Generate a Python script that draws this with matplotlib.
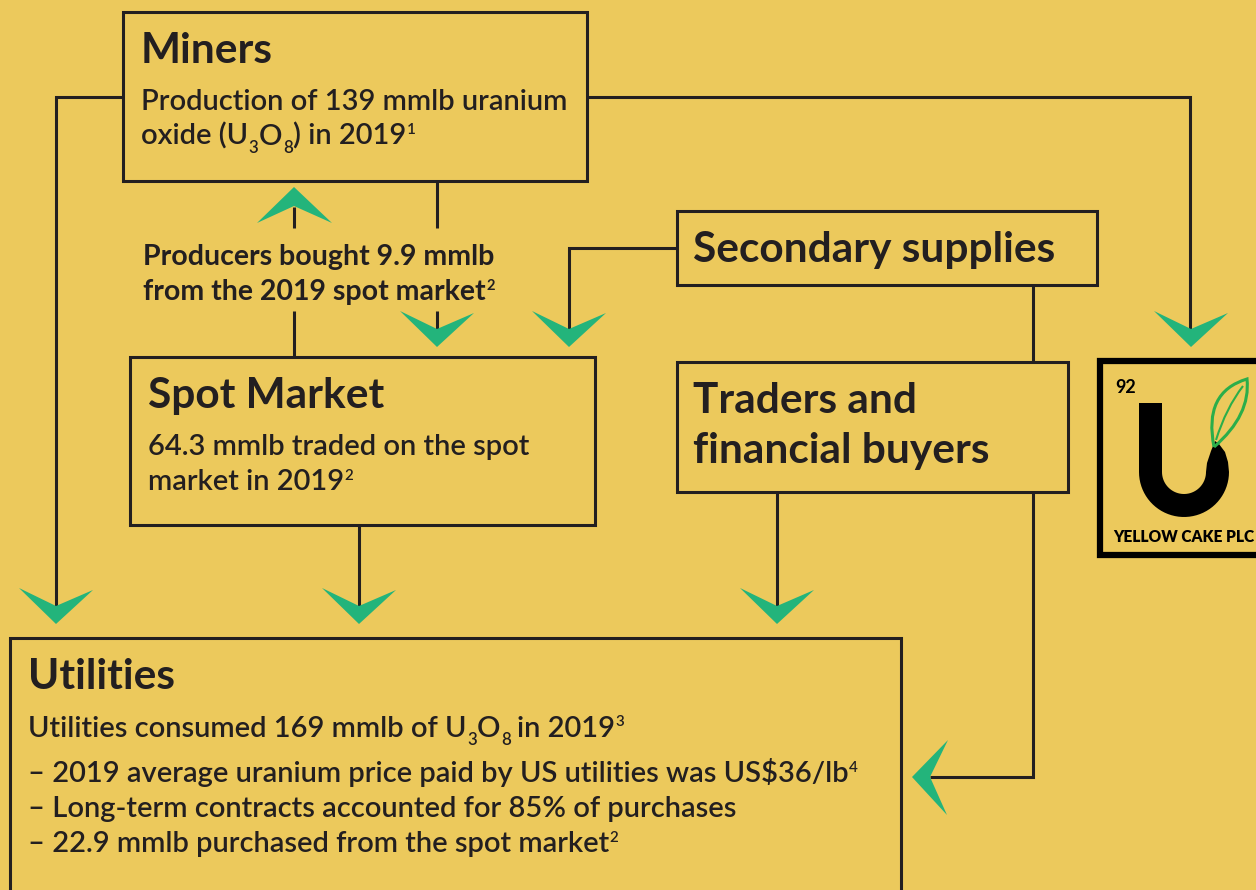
import numpy as np
import matplotlib.pyplot as plt
from matplotlib.patches import Rectangle, Polygon, PathPatch
from matplotlib.path import Path

BG = '#ECC95C'
DARK = '#231F20'
GREEN = '#23B47B'
LEAF = '#2BAE4A'

plt.rcParams['font.family'] = ['Lato', 'DejaVu Sans']

# box titles
titles = ['Miners', 'Secondary supplies', 'Spot Market', 'Traders and', 'financial buyers', 'Utilities']
# body lines, split into (text, kind) runs: kind '' normal, 'sup', 'sub'
miners_lines = [[('Production of 139 mmlb uranium', '')],
                [('oxide (U', ''), ('3', 'sub'), ('O', ''), ('8', 'sub'), (') in 2019', ''), ('1', 'sup')]]
producers_lines = [[('Producers bought 9.9 mmlb', '')],
                   [('from the 2019 spot market', ''), ('2', 'sup')]]
spot_lines = [[('64.3 mmlb traded on the spot', '')],
              [('market in 2019', ''), ('2', 'sup')]]
utilities_lines = [[('Utilities consumed 169 mmlb of U', ''), ('3', 'sub'), ('O', ''), ('8', 'sub'),
                    (' in 2019', ''), ('3', 'sup')],
                   [('– 2019 average uranium price paid by US utilities was US$36/lb', ''), ('4', 'sup')],
                   [('– Long-term contracts accounted for 85% of purchases', '')],
                   [('– 22.9 mmlb purchased from the spot market', ''), ('2', 'sup')]]
logo_number = '92'
logo_name = 'YELLOW CAKE PLC'

fig = plt.figure(figsize=(12.56, 8.90), dpi=100)
fig.patch.set_facecolor(BG)
ax = fig.add_axes([0, 0, 1, 1])
ax.set_xlim(0, 1256)
ax.set_ylim(890, 0)
ax.axis('off')
renderer = fig.canvas.get_renderer()

LW = 2.2


def box(x0, y0, x1, y1):
    ax.add_patch(Rectangle((x0, y0), x1 - x0, y1 - y0, fc=BG, ec=DARK, lw=LW, zorder=2))


def line(xs, ys):
    ax.plot(xs, ys, color=DARK, lw=LW, zorder=1, solid_capstyle='butt', solid_joinstyle='miter')


def chevron(x, y, d):
    # tip at (x, y)
    if d == 'down':
        pts = [(x - 37, y - 36), (x, y - 18), (x + 37, y - 34), (x, y)]
    elif d == 'up':
        pts = [(x - 37, y + 36), (x, y + 19), (x + 38, y + 36), (x, y)]
    else:
        pts = [(x + 36, y - 37), (x + 18, y), (x + 35, y + 38), (x, y)]
    ax.add_patch(Polygon(pts, closed=True, fc=GREEN, ec='none', zorder=3))


def rich(x, y, runs, size, weight):
    em = size * 100 / 72
    for s, kind in runs:
        fs, dy = size, 0
        if kind == 'sup':
            fs, dy = size * 0.52, -0.36 * em
        elif kind == 'sub':
            fs, dy = size * 0.58, 0.28 * em
        if s.startswith(' '):
            x += 0.2 * em
            s = s.lstrip()
        t = ax.text(x, y + dy, s, fontsize=fs, fontweight=weight, color=DARK,
                    va='baseline', ha='left', zorder=4, parse_math=False)
        bb = t.get_window_extent(renderer).transformed(ax.transData.inverted())
        x = bb.x1 + 0.5


# connectors
line([123, 56, 56], [97, 97, 606])
line([587, 1190, 1190], [97, 97, 330])
line([437, 437], [181, 228])
line([437, 437], [311, 330])
line([294, 294], [207, 228])
line([294, 294], [311, 357])
line([677, 569, 569], [248, 248, 330])
line([1033, 1033, 930], [285, 777, 777])
line([359, 359], [525, 606])
line([777, 777], [492, 606])

chevron(56, 624, 'down')
chevron(359, 624, 'down')
chevron(777, 624, 'down')
chevron(437, 347, 'down')
chevron(569, 347, 'down')
chevron(1191, 347, 'down')
chevron(294, 187, 'up')
chevron(912, 777, 'left')

# boxes
box(123, 12, 587, 181)
box(677, 211, 1097, 285)
box(130, 357, 595, 525)
box(677, 362, 1068, 492)
box(10, 638, 901, 900)

TS = 30.5
BS = 21
BW = 'semibold'
kw = dict(color=DARK, va='baseline', ha='left', zorder=4, fontsize=TS, fontweight='bold')
ax.text(141, 63, titles[0], **kw)
for i, r in enumerate(miners_lines):
    rich(141, 110 + 35 * i, r, BS, BW)
for i, r in enumerate(producers_lines):
    rich(143, 265 + 35 * i, r, 20.5, 'bold')
ax.text(693, 262, titles[1], **kw)
ax.text(148, 408, titles[2], **kw)
for i, r in enumerate(spot_lines):
    rich(148, 455 + 35 * i, r, BS, BW)
ax.text(693, 413, titles[3], **kw)
ax.text(693, 463, titles[4], **kw)
ax.text(28, 689, titles[5], **kw)
for r, y in zip(utilities_lines, [737, 782, 817, 852]):
    rich(28, y, r, BS, BW)

# logo
ax.add_patch(Rectangle((1100, 361), 170, 194, fc=BG, ec='black', lw=4.5, zorder=2))
ax.text(1115, 393, logo_number, fontsize=13, fontweight='bold', color='black', va='baseline', zorder=4)
ax.text(1113, 542, logo_name, fontsize=11.2, fontweight='heavy', color='black', va='baseline', zorder=4)

cx, cy, ro, ri = 1184, 472, 45, 22
outer = [(cx + ro * np.cos(t), cy + ro * np.sin(t)) for t in np.linspace(np.pi, 0, 40)]
inner = [(cx + ri * np.cos(t), cy + ri * np.sin(t)) for t in np.linspace(0, np.pi, 40)]
tail = [(1228, 462), (1225, 452), (1219, 444), (1215, 441), (1211, 451), (1207, 463)]
u_pts = [(1139, 403)] + outer + tail + inner + [(1162, 403)]
ax.add_patch(Polygon(u_pts, closed=True, fc='black', ec='none', zorder=3))

leaf_verts = [(1214, 447), (1203, 392), (1247, 379), (1251, 415), (1214, 447)]
leaf_codes = [Path.MOVETO, Path.CURVE3, Path.CURVE3, Path.CURVE3, Path.CURVE3]
ax.add_patch(PathPatch(Path(leaf_verts, leaf_codes), fc='none', ec=LEAF, lw=2.2, zorder=4))
vein = Path([(1216, 440), (1226, 408), (1243, 386)], [Path.MOVETO, Path.CURVE3, Path.CURVE3])
ax.add_patch(PathPatch(vein, fc='none', ec=LEAF, lw=1.5, zorder=4))

fig.savefig('out.png', dpi=100, facecolor=BG)
